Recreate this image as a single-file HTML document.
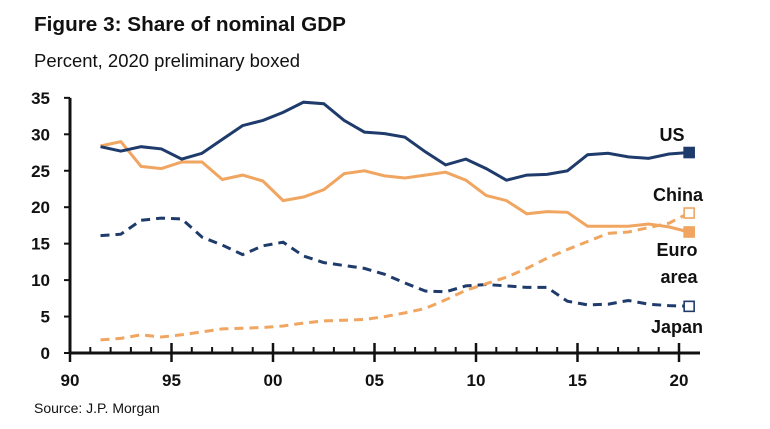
<!DOCTYPE html>
<html><head><meta charset="utf-8"><style>
body{margin:0;background:#fff;width:770px;height:424px;overflow:hidden;font-family:"Liberation Sans",sans-serif;}
svg text{font-family:"Liberation Sans",sans-serif;}
</style></head><body>
<svg id="chart" width="770" height="424">
<text x="34" y="31" font-size="20" font-weight="bold" fill="#111" textLength="312" lengthAdjust="spacingAndGlyphs">Figure 3: Share of nominal GDP</text>
<text x="34" y="67" font-size="18" fill="#111" textLength="266" lengthAdjust="spacingAndGlyphs">Percent, 2020 preliminary boxed</text>
<text x="34" y="413" font-size="14" fill="#111">Source: J.P. Morgan</text>
<g id="axes"></g><g id="series"></g>
</svg>
<script>
const years=[1991,1992,1993,1994,1995,1996,1997,1998,1999,2000,2001,2002,2003,2004,2005,2006,2007,2008,2009,2010,2011,2012,2013,2014,2015,2016,2017,2018,2019,2020];
const usValues=[28.3,27.7,28.3,28.0,26.6,27.4,29.3,31.2,31.9,33.0,34.4,34.2,31.9,30.3,30.1,29.6,27.6,25.8,26.6,25.3,23.7,24.4,24.5,25.0,27.2,27.4,26.9,26.7,27.3,27.5];
const euroValues=[28.4,29.0,25.6,25.3,26.2,26.2,23.8,24.4,23.6,20.9,21.4,22.4,24.6,25.0,24.3,24.0,24.4,24.8,23.7,21.6,20.9,19.1,19.4,19.3,17.4,17.4,17.4,17.7,17.3,16.6];
const japanValues=[16.1,16.3,18.2,18.5,18.4,15.9,14.8,13.5,14.7,15.2,13.3,12.4,12.0,11.6,10.8,9.6,8.5,8.4,9.2,9.4,9.2,9.0,9.0,7.1,6.6,6.7,7.2,6.7,6.5,6.4];
const chinaValues=[1.8,2.0,2.5,2.2,2.5,2.9,3.3,3.4,3.5,3.7,4.1,4.4,4.5,4.6,5.0,5.5,6.1,7.3,8.6,9.5,10.4,11.6,13.0,14.2,15.3,16.4,16.6,17.2,17.8,19.2];
const yTicks=[0,5,10,15,20,25,30,35];
const xTickYears=[1990,1995,2000,2005,2010,2015,2020];
const xTickLabels=["90","95","00","05","10","15","20"];
const NS="http://www.w3.org/2000/svg";
const X=y=>70+(y+0.5-1990)*20.3;
const Y=v=>353-v*7.29;
function mk(tag,attrs,parent){const e=document.createElementNS(NS,tag);for(const k in attrs)e.setAttribute(k,attrs[k]);parent.appendChild(e);return e;}
const ax=document.getElementById('axes'),sr=document.getElementById('series');
const yl=mk('line',{x1:70,x2:70,y1:Y(35),y2:353,stroke:'#111','stroke-width':3},ax);


const xl=mk('line',{x1:70,x2:700,y1:353,y2:353,stroke:'#111','stroke-width':3},ax);


yTicks.forEach(v=>{
 mk('line',{x1:64,x2:70,y1:Y(v),y2:Y(v),stroke:'#111','stroke-width':2},ax);
 const t=mk('text',{x:50,y:Y(v)+6,'font-size':17,'font-weight':'bold','text-anchor':'end',fill:'#111'},ax);
 t.textContent=v;
 
 
});
for(let yr=1990;yr<=2020;yr++){
 const x=70+(yr-1990)*20.3;const major=yr%5===0;
 mk('line',{x1:x,x2:x,y1:major?343:347,y2:major?362:353,stroke:'#111','stroke-width':major?2.5:2},ax);
}
xTickYears.forEach((yr,i)=>{
 const t=mk('text',{x:70+(yr-1990)*20.3,y:386,'font-size':17,'font-weight':'bold','text-anchor':'middle',fill:'#111'},ax);
 t.textContent=xTickLabels[i];
 
 
});
function series(vals,color,dash,name,filled){
 const d=vals.map((v,i)=>(i?'L':'M')+X(years[i]).toFixed(1)+','+Y(v).toFixed(1)).join(' ');
 const p=mk('path',{d:d,fill:'none',stroke:color,'stroke-width':3,'stroke-dasharray':dash||'none'},sr);
 
 
 const n=vals.length-1;
 const m=mk('rect',{x:X(years[n])-5,y:Y(vals[n])-5,width:10,height:10,fill:filled?color:'#fff',stroke:color,'stroke-width':1.6},sr);
 
 
}
series(japanValues,'#1f3b6b','9 6','japan',false);
series(chinaValues,'#f0a560','9 6','china',false);
series(euroValues,'#f0a560',null,'euro-area',true);
series(usValues,'#1f3b6b',null,'us',true);
const labels=[["US",672,141],["China",678,201],["Euro",677,256],["area",679,283],["Japan",677,333]];
labels.forEach(l=>{
 const t=mk('text',{x:l[1],y:l[2],'font-size':18,'font-weight':'bold','text-anchor':'middle',fill:'#111'},sr);
 t.textContent=l[0];
 
 
});
</script>
</body></html>
